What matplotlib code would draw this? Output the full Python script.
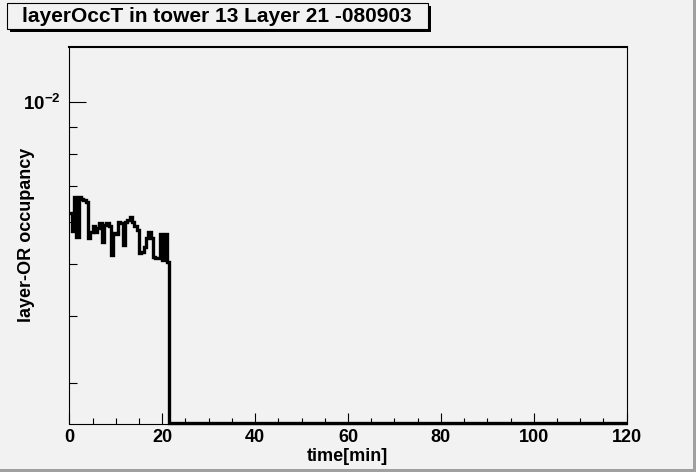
import numpy as np
import matplotlib
matplotlib.use("Agg")
import matplotlib.pyplot as plt
from matplotlib.ticker import MultipleLocator, LogLocator, LogFormatterMathtext, NullFormatter, FixedLocator
from matplotlib.patches import Rectangle

plt.rcParams['font.family'] = ['Liberation Sans', 'DejaVu Sans']
plt.rcParams['font.weight'] = 'bold'
plt.rcParams['mathtext.fontset'] = 'custom'
plt.rcParams['mathtext.bf'] = 'Liberation Sans:bold'
plt.rcParams['mathtext.rm'] = 'Liberation Sans:bold'
plt.rcParams['mathtext.default'] = 'bf'

# ---- data ----
title = "layerOccT in tower 13 Layer 21 -080903"
xlabel = "time[min]"
ylabel = "layer-OR occupancy"
bin_width = 0.5          # minutes
x_min, x_max = 0, 120
y_min, y_max = 0.002527, 0.01269
occupancy_active = [
    0.00622, 0.00576, 0.00666, 0.00561, 0.00666, 0.00661, 0.00658, 0.00652,
    0.00559, 0.00574, 0.00589, 0.00574, 0.00584, 0.00596, 0.00550, 0.00591,
    0.00596, 0.00589, 0.00520, 0.00571, 0.00569, 0.00599, 0.00596, 0.00543,
    0.00599, 0.00604, 0.00612, 0.00599, 0.00589, 0.00579, 0.00524, 0.00527,
    0.00538, 0.00560, 0.00574, 0.00560, 0.00515, 0.00513, 0.00513, 0.00569,
    0.00509, 0.00569, 0.00504,
]
n_bins = 240
occupancy = occupancy_active + [0.0] * (n_bins - len(occupancy_active))
x_major_ticks = [0, 20, 40, 60, 80, 100, 120]

# ---- figure ----
W, H = 696, 472
bg = '#f2f2f2'
fig = plt.figure(figsize=(W / 100, H / 100), dpi=100, facecolor=bg)
ax = fig.add_axes([69.3 / W, 1 - 423.5 / H, (626.7 - 69.3) / W, (423.5 - 46.7) / H])
ax.set_facecolor(bg)

edges = np.arange(n_bins + 1) * bin_width
vals = np.array(occupancy)
vals_drawn = np.where(vals > 0, vals, y_min)   # ROOT draws empty bins on the frame bottom
ax.set_yscale('log')
ax.stairs(vals_drawn, edges, baseline=None, color='black', linewidth=2.4, clip_on=False, zorder=3)

ax.set_xlim(x_min, x_max)
ax.set_ylim(y_min, y_max)

ax.xaxis.set_major_locator(FixedLocator(x_major_ticks))
ax.xaxis.set_minor_locator(MultipleLocator(5))
ax.yaxis.set_major_locator(LogLocator(base=10))
ax.yaxis.set_major_formatter(LogFormatterMathtext())
ax.yaxis.set_minor_locator(LogLocator(base=10, subs=np.arange(2, 10)))
ax.yaxis.set_minor_formatter(NullFormatter())

ax.tick_params(axis='x', which='major', direction='in', length=8, width=0.8, pad=4,
               labelsize=13, top=False)
ax.tick_params(axis='x', which='minor', direction='in', length=4, width=0.8, top=False)
ax.tick_params(axis='y', which='major', direction='in', length=12, width=0.8, pad=6,
               labelsize=13.5, right=False)
ax.tick_params(axis='y', which='minor', direction='in', length=6, width=0.8, right=False)
for lab in ax.get_xticklabels() + ax.get_yticklabels():
    lab.set_fontweight('bold')

for s in ['left', 'right', 'bottom']:
    ax.spines[s].set_linewidth(0.8)
ax.spines['top'].set_linewidth(1.5)

ax.set_ylabel(ylabel, fontsize=13, fontweight='bold', va='center')
ax.yaxis.set_label_coords(-0.0759, 0.5)
ax.set_xlabel(xlabel, fontsize=13, fontweight='bold', ha='right', va='center')
ax.xaxis.set_label_coords(0.5718, -0.087)

# title box with shadow (ROOT TPaveText style)
def fx(px):
    return px / W
def fy(py):
    return 1 - py / H
bx0, bx1, by0, by1 = 7, 428, 3, 29
shadow = Rectangle((fx(bx0 + 3), fy(by1 + 3)), fx(bx1 - bx0), (by1 - by0) / H,
                   transform=fig.transFigure, facecolor='black', edgecolor='none', zorder=1)
box = Rectangle((fx(bx0), fy(by1)), fx(bx1 - bx0), (by1 - by0) / H,
                transform=fig.transFigure, facecolor=bg, edgecolor='black', linewidth=0.8, zorder=2)
fig.patches.extend([shadow, box])
fig.text(fx(217), fy(16.5), title, ha='center', va='center',
         fontsize=15, fontweight='bold', zorder=3)

# canvas bevel border (right & bottom)
fig.patches.append(Rectangle((fx(693), 0), fx(3), 1, transform=fig.transFigure,
                             facecolor='#a0a0a0', edgecolor='none'))
fig.patches.append(Rectangle((0, 0), 1, 3 / H, transform=fig.transFigure,
                             facecolor='#a0a0a0', edgecolor='none'))

fig.savefig('out.png', dpi=100, facecolor=bg)
